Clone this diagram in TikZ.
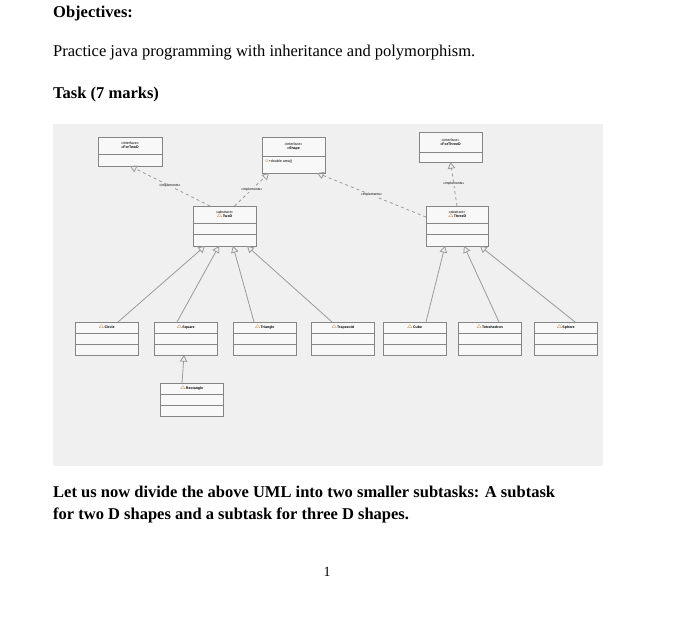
\documentclass[tikz,border=0pt]{standalone}
\usepackage{fontspec}
\setmainfont{Liberation Serif}
\newfontfamily\umlfont{Liberation Sans}
\usetikzlibrary{arrows}

\definecolor{panel}{HTML}{F0F0F0}
\definecolor{boxfill}{HTML}{F8F8F8}
\definecolor{boxedge}{HTML}{858585}
\definecolor{wire}{HTML}{9A9A9A}

% class box: name, x1, y1, x2, y2, divider 1, divider 2, header
\newcommand{\umlclass}[8]{%
  \node[cls, minimum width={(#4-#2)*1pt}, minimum height={(#5-#3)*1pt}] (#1) at ({(#2+#4)/2},{(#3+#5)/2}) {};
  \draw[boxedge, thick] (#2,#6) -- (#4,#6) (#2,#7) -- (#4,#7);
  \node[title] at ({(#2+#4)/2},{(#3+#6)/2}) {#8};
}

\begin{document}
\begin{tikzpicture}[
    x=1pt, y=-1pt,
    cls/.style={draw=boxedge, thick, fill=boxfill, inner sep=0pt, outer sep=0pt},
    title/.style={font=\umlfont\fontsize{3.6}{4.2}\selectfont\bfseries, align=center, inner sep=0pt},
    impl/.style={draw=wire, dashed, thick, -open triangle 60},
    inh/.style={draw=wire, thick, -open triangle 60},
    lbl/.style={font=\umlfont\fontsize{3.4}{4}\selectfont, fill=panel, inner sep=0.5pt},
    body/.style={anchor=west, inner sep=0pt, font=\fontsize{16.5}{20}\selectfont}
]
\useasboundingbox (0,0) rectangle (700,623);

% Text
\node[body, font=\fontsize{16.5}{20}\selectfont\bfseries] (obj) at (53,14) {Objectives:};
\node[body] (aim) at (53,53) {Practice java programming with inheritance and polymorphism.};
\node[body, font=\fontsize{16.5}{20}\selectfont\bfseries] (task) at (53,95) {Task (7 marks)};
\node[body, anchor=north west, align=left, font=\fontsize{16.5}{21.5}\selectfont\bfseries] (note) at (53,486)
  {Let us now divide the above UML into two smaller subtasks: A subtask\\for two D shapes and a subtask for three D shapes.};
\node[inner sep=0pt, font=\fontsize{14}{16}\selectfont] (page) at (327,572) {1};

% Panel
\fill[panel] (53,124) rectangle (603,466);

% Interfaces
\umlclass{ForTwoD}{98}{137}{162}{166}{154}{166}{\mdseries«interface»\\«ForTwoD}
\umlclass{Shape}{262}{137}{325}{173}{156}{173}{\mdseries«interface»\\«Shape}
\node[title, font=\umlfont\fontsize{3.6}{4.2}\selectfont, anchor=west] (area) at (265,162) {\textcolor{orange!70!black}{\(\circ\)}+double area()};
\umlclass{ForThreeD}{419}{132}{482}{162}{152}{162}{\mdseries«interface»\\«ForThreeD}

% Abstract classes
\umlclass{TwoD}{193}{206}{256}{246}{223}{234}{\mdseries«abstract»\\\textcolor{orange!70!black}{\(\triangle\)}TwoD}
\umlclass{ThreeD}{426}{206}{488}{246}{223}{234}{\mdseries«abstract»\\\textcolor{orange!70!black}{\(\triangle\)}ThreeD}

% Concrete classes
\umlclass{Circle}{75}{322}{138}{355}{333}{344}{\textcolor{orange!70!black}{\(\triangle\)}Circle}
\umlclass{Square}{154}{322}{217}{355}{333}{344}{\textcolor{orange!70!black}{\(\triangle\)}Square}
\umlclass{Triangle}{233}{322}{296}{355}{333}{344}{\textcolor{orange!70!black}{\(\triangle\)}Triangle}
\umlclass{Trapezoid}{311}{322}{374}{355}{333}{344}{\textcolor{orange!70!black}{\(\triangle\)}Trapezoid}
\umlclass{Cube}{383}{322}{446}{355}{333}{344}{\textcolor{orange!70!black}{\(\triangle\)}Cube}
\umlclass{Tetrahedron}{458}{322}{521}{355}{333}{344}{\textcolor{orange!70!black}{\(\triangle\)}Tetrahedron}
\umlclass{Sphere}{534}{322}{597}{355}{333}{344}{\textcolor{orange!70!black}{\(\triangle\)}Sphere}
\umlclass{Rectangle}{160}{383}{223}{416}{394}{405}{\textcolor{orange!70!black}{\(\triangle\)}Rectangle}

% Realisations
\draw[impl] ([xshift=-14.5pt]TwoD.north) -- node[lbl] {«implements»} (ForTwoD.south);
\draw[impl] ([xshift=10pt]TwoD.north) -- node[lbl] {«implements»} ([xshift=-24.5pt]Shape.south);
\draw[impl] ([yshift=9pt]ThreeD.west) -- node[lbl] {«implements»} ([xshift=23.5pt]Shape.south);
\draw[impl] (ThreeD.north) -- node[lbl] {«implements»} (ForThreeD.south);

% Generalisations
\draw[inh] ([xshift=11.5pt]Circle.north) -- ([xshift=-19.5pt]TwoD.south);
\draw[inh] ([xshift=-8.5pt]Square.north) -- ([xshift=-5.5pt]TwoD.south);
\draw[inh] ([xshift=-10.5pt]Triangle.north) -- ([xshift=8.5pt]TwoD.south);
\draw[inh] ([xshift=-10.5pt]Trapezoid.north) -- ([xshift=22.5pt]TwoD.south);
\draw[inh] ([xshift=11.5pt]Cube.north) -- ([xshift=-12pt]ThreeD.south);
\draw[inh] ([xshift=9.5pt]Tetrahedron.north) -- ([xshift=7pt]ThreeD.south);
\draw[inh] ([xshift=9.5pt]Sphere.north) -- ([xshift=23pt]ThreeD.south);
\draw[inh] ([xshift=-9.5pt]Rectangle.north) -- ([xshift=-1.5pt]Square.south);

\end{tikzpicture}
\end{document}
